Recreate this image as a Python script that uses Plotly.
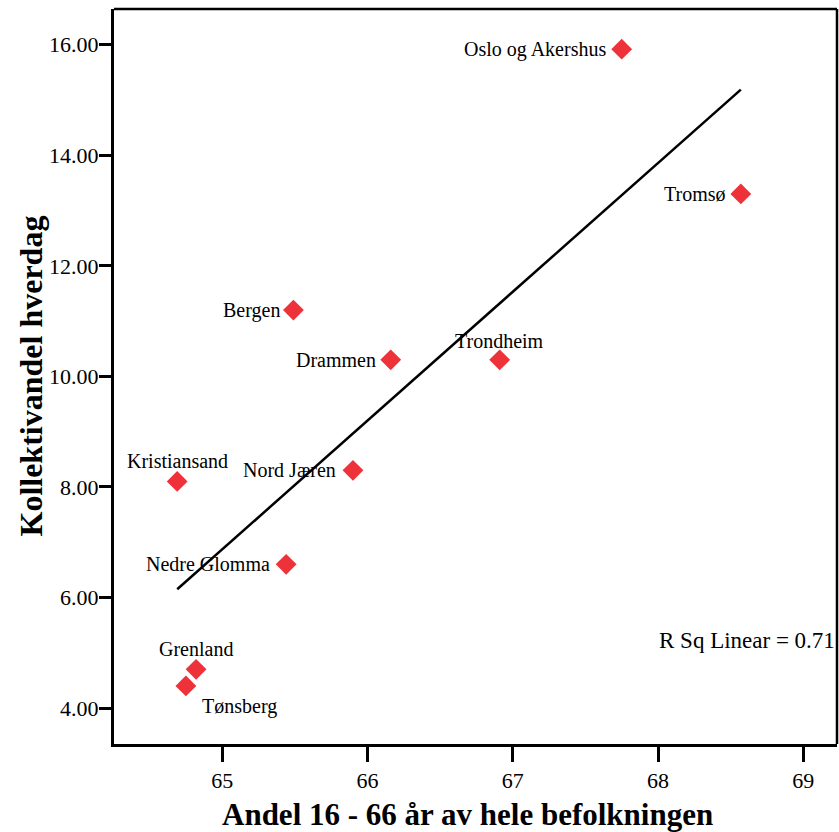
import numpy as np
import plotly.graph_objects as go

# Regions with share of population aged 16-66 and public transport share on weekdays
regions = ["Oslo og Akershus", "Tromsø", "Bergen", "Drammen", "Trondheim",
           "Nord Jæren", "Kristiansand", "Nedre Glomma", "Grenland", "Tønsberg"]
andel_16_66 = [67.75, 68.57, 65.49, 66.16, 66.91, 65.90, 64.69, 65.44, 64.82, 64.75]
kollektivandel = [15.92, 13.30, 11.20, 10.30, 10.30, 8.30, 8.10, 6.60, 4.70, 4.40]

x_ticks = [65, 66, 67, 68, 69]
y_ticks = [4, 6, 8, 10, 12, 14, 16]

FONT = "Liberation Serif"
RED = "#ee3239"

x = np.array(andel_16_66)
y = np.array(kollektivandel)

# Least-squares fit line drawn over the observed x span
slope, intercept = np.polyfit(x, y, 1)
fit_x = np.array([x.min(), x.max()])
fit_y = slope * fit_x + intercept
r2 = np.corrcoef(x, y)[0, 1] ** 2

fig = go.Figure()
fig.add_trace(go.Scatter(x=fit_x, y=fit_y, mode="lines",
                         line=dict(color="black", width=2.5),
                         hoverinfo="skip", showlegend=False))
fig.add_trace(go.Scatter(x=x, y=y, mode="markers", text=regions,
                         marker=dict(symbol="diamond", size=16, color=RED,
                                     line=dict(width=0)),
                         showlegend=False))

# label placement: (xanchor, xshift, yshift)
placement = {
    "Oslo og Akershus": ("right", -14, 0),
    "Tromsø": ("right", -13, 0),
    "Bergen": ("right", -11, 0),
    "Drammen": ("right", -13, 0),
    "Trondheim": ("center", 0, 19),
    "Nord Jæren": ("right", -15, 0),
    "Kristiansand": ("center", 0, 20),
    "Nedre Glomma": ("right", -14, 0),
    "Grenland": ("center", 0, 20),
    "Tønsberg": ("left", 14, -21),
}

annotations = []
for name, xv, yv in zip(regions, andel_16_66, kollektivandel):
    xa, xs, ys = placement[name]
    annotations.append(dict(x=xv, y=yv, xref="x", yref="y", text=name,
                            showarrow=False, xanchor=xa, yanchor="middle",
                            xshift=xs, yshift=ys,
                            font=dict(family=FONT, size=20, color="black")))

annotations.append(dict(x=1, y=0.1404, xref="paper", yref="paper",
                        text=f"R Sq Linear = {r2:.2f}", showarrow=False,
                        xanchor="right", yanchor="middle", xshift=0,
                        font=dict(family=FONT, size=23, color="black")))

# axis titles
annotations.append(dict(x=0.5, y=0, xref="paper", yref="paper",
                        text="<b>Andel 16 - 66 år av hele befolkningen</b>",
                        showarrow=False, xanchor="center", yanchor="middle",
                        xshift=-8, yshift=-70,
                        font=dict(family=FONT, size=31, color="black")))
annotations.append(dict(x=0, y=0.5, xref="paper", yref="paper",
                        text="<b>Kollektivandel hverdag</b>", textangle=-90,
                        showarrow=False, xanchor="center", yanchor="middle",
                        xshift=-84,
                        font=dict(family=FONT, size=32, color="black")))

fig.update_layout(
    width=839, height=832,
    margin=dict(l=114, r=2, t=9, b=88),
    paper_bgcolor="white", plot_bgcolor="white",
    annotations=annotations,
    shapes=[
        dict(type="line", xref="paper", yref="paper", x0=0, x1=1, y0=1, y1=1,
             line=dict(color="black", width=2.5)),
        dict(type="line", xref="paper", yref="paper", x0=1, x1=1, y0=0, y1=1,
             line=dict(color="black", width=2.5)),
    ],
)
fig.update_xaxes(range=[64.255, 69.232], tickvals=x_ticks,
                 ticktext=[str(v) for v in x_ticks],
                 showgrid=False, zeroline=False,
                 showline=True, linecolor="black", linewidth=3,
                 ticks="outside", ticklen=15, tickwidth=3, tickcolor="black",
                 tickfont=dict(family=FONT, size=22, color="black"))
fig.update_yaxes(range=[3.35, 16.646], tickvals=y_ticks,
                 ticktext=[f"{v:.2f}" for v in y_ticks],
                 showgrid=False, zeroline=False,
                 showline=True, linecolor="black", linewidth=3,
                 ticks="outside", ticklen=12, tickwidth=3, tickcolor="black",
                 ticklabelstandoff=-4,
                 tickfont=dict(family=FONT, size=22, color="black"))

fig.write_html("out.html")
